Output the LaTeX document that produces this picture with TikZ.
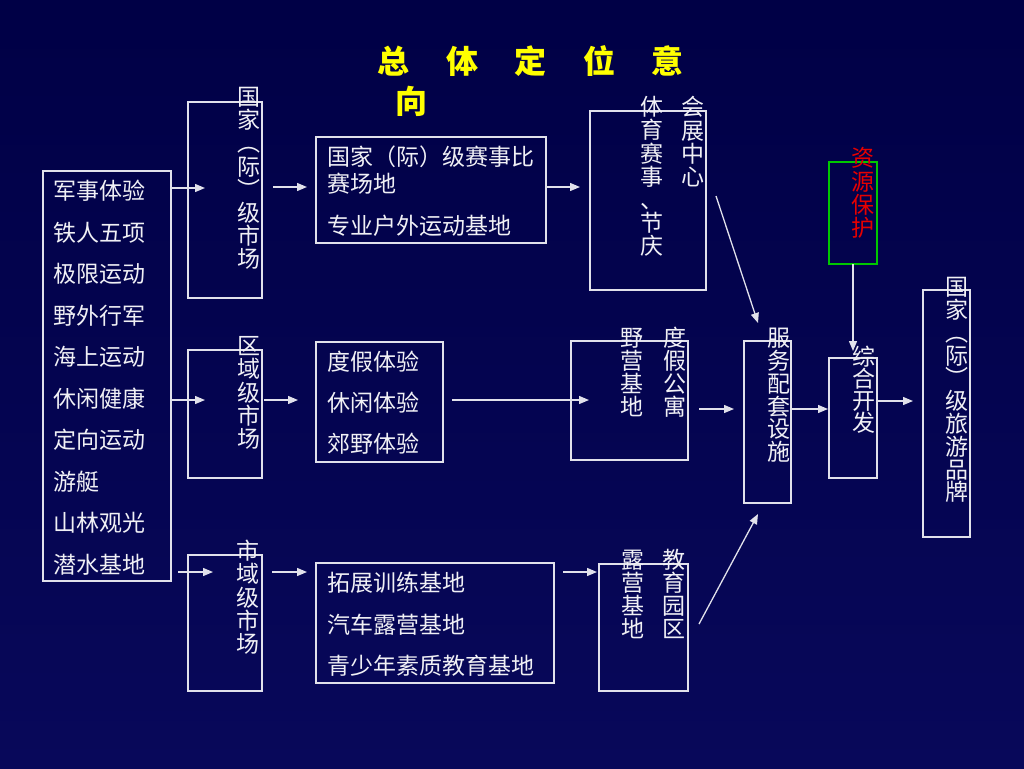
\documentclass[tikz,border=0pt]{standalone}
\usepackage{fontspec}
\newfontfamily\cjk{Noto Sans CJK SC}
\usetikzlibrary{arrows.meta}
\definecolor{bgtop}{RGB}{0,0,70}
\definecolor{bgbot}{RGB}{8,8,90}
\definecolor{linec}{RGB}{225,225,235}
\definecolor{txtc}{RGB}{240,240,245}
\definecolor{titlec}{RGB}{255,255,0}
\definecolor{greenc}{RGB}{0,200,0}
\definecolor{redc}{RGB}{230,0,0}
\tikzset{
 box/.style={draw=linec, line width=1.3pt, inner sep=0pt, outer sep=0pt, anchor=north west},
 txt/.style={text=txtc, font=\cjk\fontsize{23}{23}\selectfont, inner sep=0pt, text height=20.2pt, text depth=2.8pt},
 htxt/.style={txt, anchor=west},
 vtxt/.style={txt, anchor=center},
 ttl/.style={text=titlec, font=\cjk\bfseries\fontsize{32}{32}\selectfont, inner sep=0pt, text height=28.2pt, text depth=3.8pt},
 arr/.style={draw=linec, line width=1.3pt, -{Triangle[length=10pt,width=8pt]}},
}
\newcommand\myvcol[6][]{%
 \foreach \c [count=\i] in {#6} {\node[vtxt,#1] (#2\i) at (#3,{#4+(\i-1)*#5}) {\c};}}
\begin{document}
\begin{tikzpicture}[x=1pt,y=-1pt]
\useasboundingbox (0,0) rectangle (1024,768);
\shade[top color=bgtop, bottom color=bgbot] (0,0) rectangle (1024,768);

% title
\node[ttl] (T1) at (393,61) {总};
\node[ttl] (T2) at (462,61) {体};
\node[ttl] (T3) at (530,61) {定};
\node[ttl] (T4) at (599,61) {位};
\node[ttl] (T5) at (667,61) {意};
\node[ttl] (T6) at (411,101) {向};

% boxes
\node[box, minimum width=128pt, minimum height=410pt] (L) at (43,171) {};
\node[box, minimum width=74pt, minimum height=196pt] (N1) at (188,102) {};
\node[box, minimum width=74pt, minimum height=128pt] (N2) at (188,350) {};
\node[box, minimum width=74pt, minimum height=136pt] (N3) at (188,555) {};
\node[box, minimum width=230pt, minimum height=106pt] (M1) at (316,137) {};
\node[box, minimum width=127pt, minimum height=120pt] (M2) at (316,342) {};
\node[box, minimum width=238pt, minimum height=120pt] (M3) at (316,563) {};
\node[box, minimum width=116pt, minimum height=179pt] (R1) at (590,111) {};
\node[box, minimum width=117pt, minimum height=119pt] (R2) at (571,341) {};
\node[box, minimum width=89pt, minimum height=127pt] (R3) at (599,564) {};
\node[box, minimum width=47pt, minimum height=162pt] (S) at (744,341) {};
\node[box, draw=greenc, minimum width=48pt, minimum height=102pt] (G) at (829,162) {};
\node[box, minimum width=48pt, minimum height=120pt] (Z) at (829,358) {};
\node[box, minimum width=47pt, minimum height=247pt] (B) at (923,290) {};

% left list
\foreach \t [count=\i] in {军事体验,铁人五项,极限运动,野外行军,海上运动,休闲健康,定向运动,游艇,山林观光,潜水基地}
  {\node[htxt] (Li\i) at (53,{191+(\i-1)*41.5}) {\t};}

% middle boxes text
\node[htxt] (M1a) at (327,157) {国家（际）级赛事比};
\node[htxt] (M1b) at (327,184) {赛场地};
\node[htxt] (M1c) at (327,226) {专业户外运动基地};
\node[htxt] (M2a) at (327,362) {度假体验};
\node[htxt] (M2b) at (327,403) {休闲体验};
\node[htxt] (M2c) at (327,444) {郊野体验};
\node[htxt] (M3a) at (327,583) {拓展训练基地};
\node[htxt] (M3b) at (327,625) {汽车露营基地};
\node[htxt] (M3c) at (327,666) {青少年素质教育基地};

% vertical texts
\myvcol{Na}{249}{97}{23.1}{国,家,︵,际,︶,级,市,场}
\myvcol{Nb}{249}{346}{23.2}{区,域,级,市,场}
\myvcol{Nc}{248}{551}{23.2}{市,域,级,市,场}
\myvcol{Ra}{652}{107}{23.2}{体,育,赛,事,、,节,庆}
\myvcol{Rb}{693}{107}{23.3}{会,展,中,心}
\myvcol{Rc}{632}{338}{23}{野,营,基,地}
\myvcol{Rd}{675}{338}{23}{度,假,公,寓}
\myvcol{Re}{633}{560}{23}{露,营,基,地}
\myvcol{Rf}{674}{560}{23}{教,育,园,区}
\myvcol{Sa}{779}{338}{22.8}{服,务,配,套,设,施}
\myvcol[text=redc]{Ga}{863}{158}{23.3}{资,源,保,护}
\myvcol{Za}{864}{357}{22}{综,合,开,发}
\myvcol{Ba}{957}{287}{22.8}{国,家,︵,际,︶,级,旅,游,品,牌}

% connectors
\coordinate (e1) at (205,188);
\coordinate (e2) at (205,400);
\coordinate (s3) at (178,572);
\coordinate (e3) at (213,572);
\coordinate (s4) at (273,187);
\coordinate (e4) at (307,187);
\coordinate (s5) at (264,400);
\coordinate (e5) at (298,400);
\coordinate (s6) at (272,572);
\coordinate (e6) at (307,572);
\coordinate (e7) at (580,187);
\coordinate (s8) at (452,400);
\coordinate (e8) at (589,400);
\coordinate (s9) at (563,572);
\coordinate (e9) at (597,572);
\coordinate (s10) at (716,196);
\coordinate (e10) at (758,323);
\coordinate (s11) at (699,624);
\coordinate (e11) at (758,514);
\coordinate (s12) at (699,409);
\coordinate (e12) at (734,409);
\coordinate (e13) at (828,409);
\coordinate (e14) at (853,351);
\coordinate (e15) at (913,401);

\draw[arr] (L.east |- e1) -- (e1);
\draw[arr] (L.east |- e2) -- (e2);
\draw[arr] (s3) -- (e3);
\draw[arr] (s4) -- (e4);
\draw[arr] (s5) -- (e5);
\draw[arr] (s6) -- (e6);
\draw[arr] (M1.east |- e7) -- (e7);
\draw[arr] (s8) -- (e8);
\draw[arr] (s9) -- (e9);
\draw[arr] (s10) -- (e10);
\draw[arr] (s11) -- (e11);
\draw[arr] (s12) -- (e12);
\draw[arr] (S.east |- e13) -- (e13);
\draw[arr] (G.south) -- (e14);
\draw[arr] (Z.east |- e15) -- (e15);
\end{tikzpicture}
\end{document}
